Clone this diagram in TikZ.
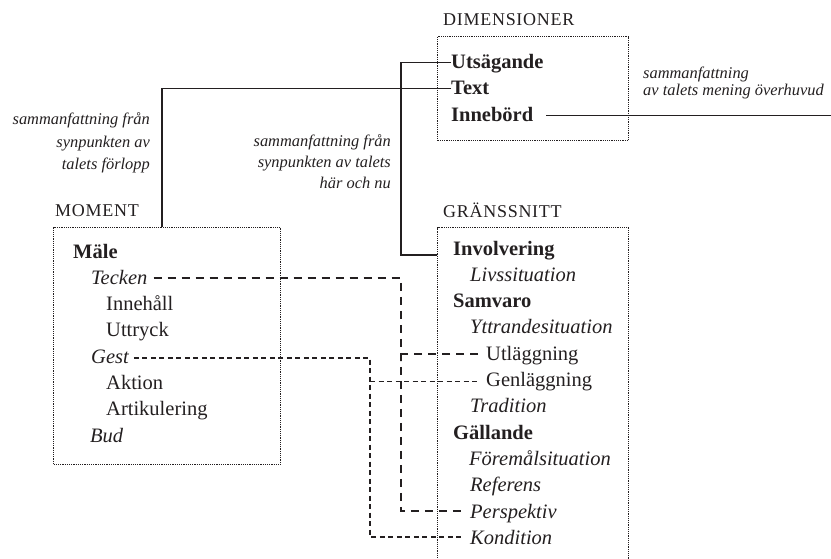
\documentclass[tikz,border=0pt]{standalone}
\usepackage{fontspec}
\setmainfont{Liberation Serif}
\definecolor{ink}{HTML}{231F20}
\begin{document}
\begin{tikzpicture}[x=1pt,y=-1pt,color=ink,
  lbl/.style={anchor=base west,inner sep=0pt,font=\fontsize{18}{20}\selectfont\addfontfeature{LetterSpace=4}},
  plain/.style={anchor=base west,inner sep=0pt,font=\fontsize{20.5}{24}\selectfont},
  bld/.style={anchor=base west,inner sep=0pt,font=\fontsize{20.5}{24}\selectfont\bfseries},
  itl/.style={anchor=base west,inner sep=0pt,font=\fontsize{20.5}{24}\selectfont\itshape},
  note/.style={inner sep=0pt,font=\fontsize{16.4}{20}\selectfont\itshape},
  frame/.style={draw,densely dotted,line width=1.2pt,inner sep=0pt,anchor=north west},
  solidline/.style={line width=1.7pt},
  longdash/.style={line width=1.7pt,dash pattern=on 8.5pt off 5.5pt},
  shortdash/.style={line width=1.8pt,dash pattern=on 5pt off 3.5pt}]
\useasboundingbox (0,0) rectangle (831,558);
\clip (0,0) rectangle (831,558);

% helper coordinates (x positions of vertical runs, free end)
\coordinate (vx) at (401,0);
\coordinate (tx) at (401,0);
\coordinate (mx) at (162,0);
\coordinate (gx) at (370,0);
\coordinate (rend) at (831,0);

% DIMENSIONER
\node[lbl] (dimlbl) at (443,25) {DIMENSIONER};
\node[frame,minimum width=191,minimum height=104] (dimbox) at (437,36) {};
\node[bld] (uts) at (451,68) {Utsägande};
\node[bld] (txt) at (451,94.5) {Text};
\node[bld] (inn) at (451,121) {Innebörd};

% GRÄNSSNITT
\node[lbl] (grlbl) at (443,217) {GRÄNSSNITT};
\node[frame,minimum width=191,minimum height=360] (grbox) at (437,227) {};
\node[bld] (inv) at (453,255) {Involvering};
\node[itl] (liv) at (470,281.3) {Livssituation};
\node[bld] (sam) at (453,307.6) {Samvaro};
\node[itl] (ytt) at (470,333.9) {Yttrandesituation};
\node[plain] (utl) at (486,360.2) {Utläggning};
\node[plain] (gen) at (486,386.5) {Genläggning};
\node[itl] (tra) at (470,412.8) {Tradition};
\node[bld] (gal) at (453,439.1) {Gällande};
\node[itl] (for) at (469,465.4) {Föremålsituation};
\node[itl] (ref) at (470,491.7) {Referens};
\node[itl] (per) at (470,518) {Perspektiv};
\node[itl] (kon) at (470,544.3) {Kondition};

% MOMENT
\node[lbl] (momlbl) at (55,216) {MOMENT};
\node[frame,minimum width=227,minimum height=237] (mombox) at (53,227) {};
\node[bld] (mal) at (73,258) {Mäle};
\node[itl] (tec) at (91,284.3) {Tecken};
\node[plain] (inh) at (106,310.6) {Innehåll};
\node[plain] (utt) at (106,336.9) {Uttryck};
\node[itl] (ges) at (91,363.2) {Gest};
\node[plain] (akt) at (106,389.5) {Aktion};
\node[plain] (art) at (106,415.8) {Artikulering};
\node[itl] (bud) at (90,442.1) {Bud};

% annotations
\node[note,anchor=base east] (n1a) at (150,124) {sammanfattning från};
\node[note,anchor=base east] (n1b) at (150,147) {synpunkten av};
\node[note,anchor=base east] (n1c) at (150,169) {talets förlopp};
\node[note,anchor=base east] (n2a) at (391,146) {sammanfattning från};
\node[note,anchor=base east] (n2b) at (391,167) {synpunkten av talets};
\node[note,anchor=base east] (n2c) at (391,188) {här och nu};
\node[note,anchor=base west] (n3a) at (643,78) {sammanfattning};
\node[note,anchor=base west] (n3b) at (643,95) {av talets mening överhuvud};

% solid connectors
\coordinate (utsL) at ([shift={(0,-5.5)}]uts.base west);
\coordinate (txtL) at ([shift={(0,-6)}]txt.base west);
\coordinate (innR) at ([shift={(13,-5.5)}]inn.base east);
\coordinate (invL) at (inv.base west);
\draw[solidline] (utsL) -- (utsL -| vx) -- (vx |- invL) -- (invL -| grbox.west);
\draw[solidline] (txtL) -- (txtL -| mx) -- (mx |- mombox.north);
\draw[solidline] (innR) -- (innR -| rend);

% dashed connectors
\coordinate (tecR) at ([shift={(6,-6)}]tec.base east);
\coordinate (perL) at ([shift={(-6,-7)}]per.base west);
\draw[longdash] (tecR) -- (tecR -| tx) -- (tx |- perL) -- (perL);
\coordinate (utlL) at ([shift={(-8,-6)}]utl.base west);
\draw[longdash] (utlL) -- (utlL -| tx) -- ++(0,7);
\coordinate (gesR) at ([shift={(5,-5.5)}]ges.base east);
\coordinate (konL) at ([shift={(-6,-7.5)}]kon.base west);
\draw[shortdash] (gesR) -- (gesR -| gx) -- (gx |- konL) -- (konL);
\coordinate (genL) at ([shift={(-8,-5)}]gen.base west);
\draw[shortdash] (genL -| gx) -- (genL);
\end{tikzpicture}
\end{document}
